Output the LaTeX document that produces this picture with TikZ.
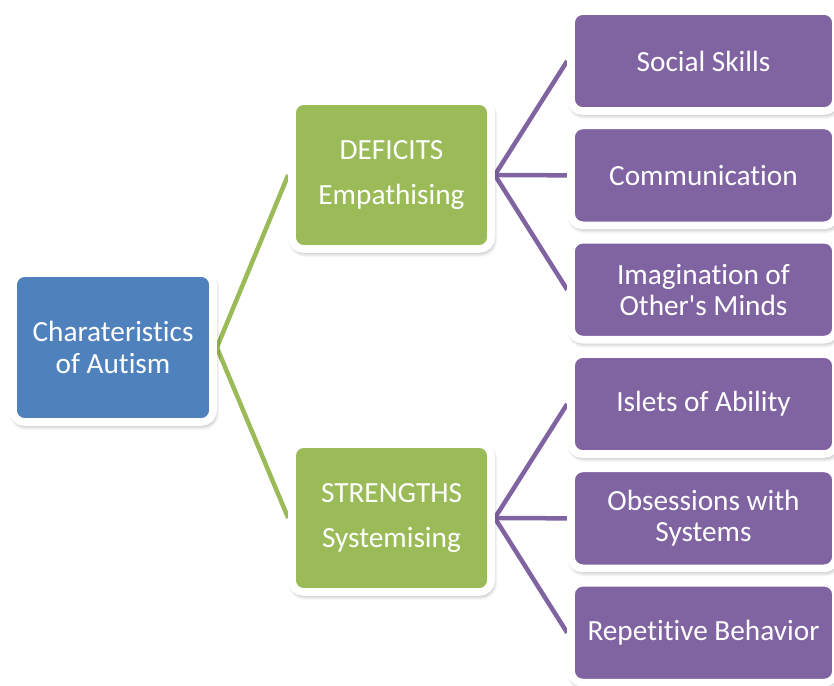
\documentclass[tikz,border=0pt]{standalone}
\usepackage{fontspec}
\setmainfont{Carlito}[Ligatures={TeXOff,CommonOff}]
\usetikzlibrary{positioning,backgrounds,shadows.blur}
\definecolor{autblue}{HTML}{4F81BD}
\definecolor{autgreen}{HTML}{9BBB59}
\definecolor{autpurple}{HTML}{8064A2}
\begin{document}
\begin{tikzpicture}[x=0.3mm,y=-0.3mm,node distance=34.3mm,
    box/.style={draw=white,line width=2.3mm,rounded corners=3.5mm,text=white,align=center,
      font=\fontsize{25}{26.6}\selectfont,
      blur shadow={shadow xshift=0.4mm,shadow yshift=-0.9mm,shadow opacity=45,shadow blur radius=1.6mm,shadow blur steps=8}},
    root node/.style={box,fill=autblue,minimum width=60mm,minimum height=44.7mm},
    mid node/.style={box,fill=autgreen,minimum width=59.7mm,minimum height=44.4mm},
    leaf node/.style={box,fill=autpurple,minimum width=79.5mm,minimum height=30mm},
    greenlink/.style={draw=autgreen,line width=1.35mm},
    purplelink/.style={draw=autpurple,line width=1.35mm}]

        \useasboundingbox (0,0) rectangle (834,685);

        \node[root node] (root) at (113,347.5) {Charateristics\\of Autism};
        \node[mid node] (deficits) at (391.5,175) {DEFICITS\\[3.9mm]Empathising};
        \node[mid node] (strengths) at (391.5,518) {STRENGTHS\\[3.9mm]Systemising};

        \node[leaf node] (social) at (703.5,61) {Social Skills};
        \node[leaf node] (comm) [below of = social] {Communication};
        \node[leaf node] (imag) [below of = comm] {Imagination of\\Other's Minds};
        \node[leaf node] (islets) [below of = imag] {Islets of Ability};
        \node[leaf node] (obsess) [below of = islets] {Obsessions with\\Systems};
        \node[leaf node] (repet) [below of = obsess] {Repetitive Behavior};

        \begin{scope}[on background layer]
            \draw[greenlink] (root.east) to (deficits.west);
            \draw[greenlink] (root.east) to (strengths.west);
            \foreach \leaf in {social,comm,imag}
                \draw[purplelink] (deficits.east) to (\leaf.west);
            \foreach \leaf in {islets,obsess,repet}
                \draw[purplelink] (strengths.east) to (\leaf.west);
        \end{scope}
\end{tikzpicture}
\end{document}
